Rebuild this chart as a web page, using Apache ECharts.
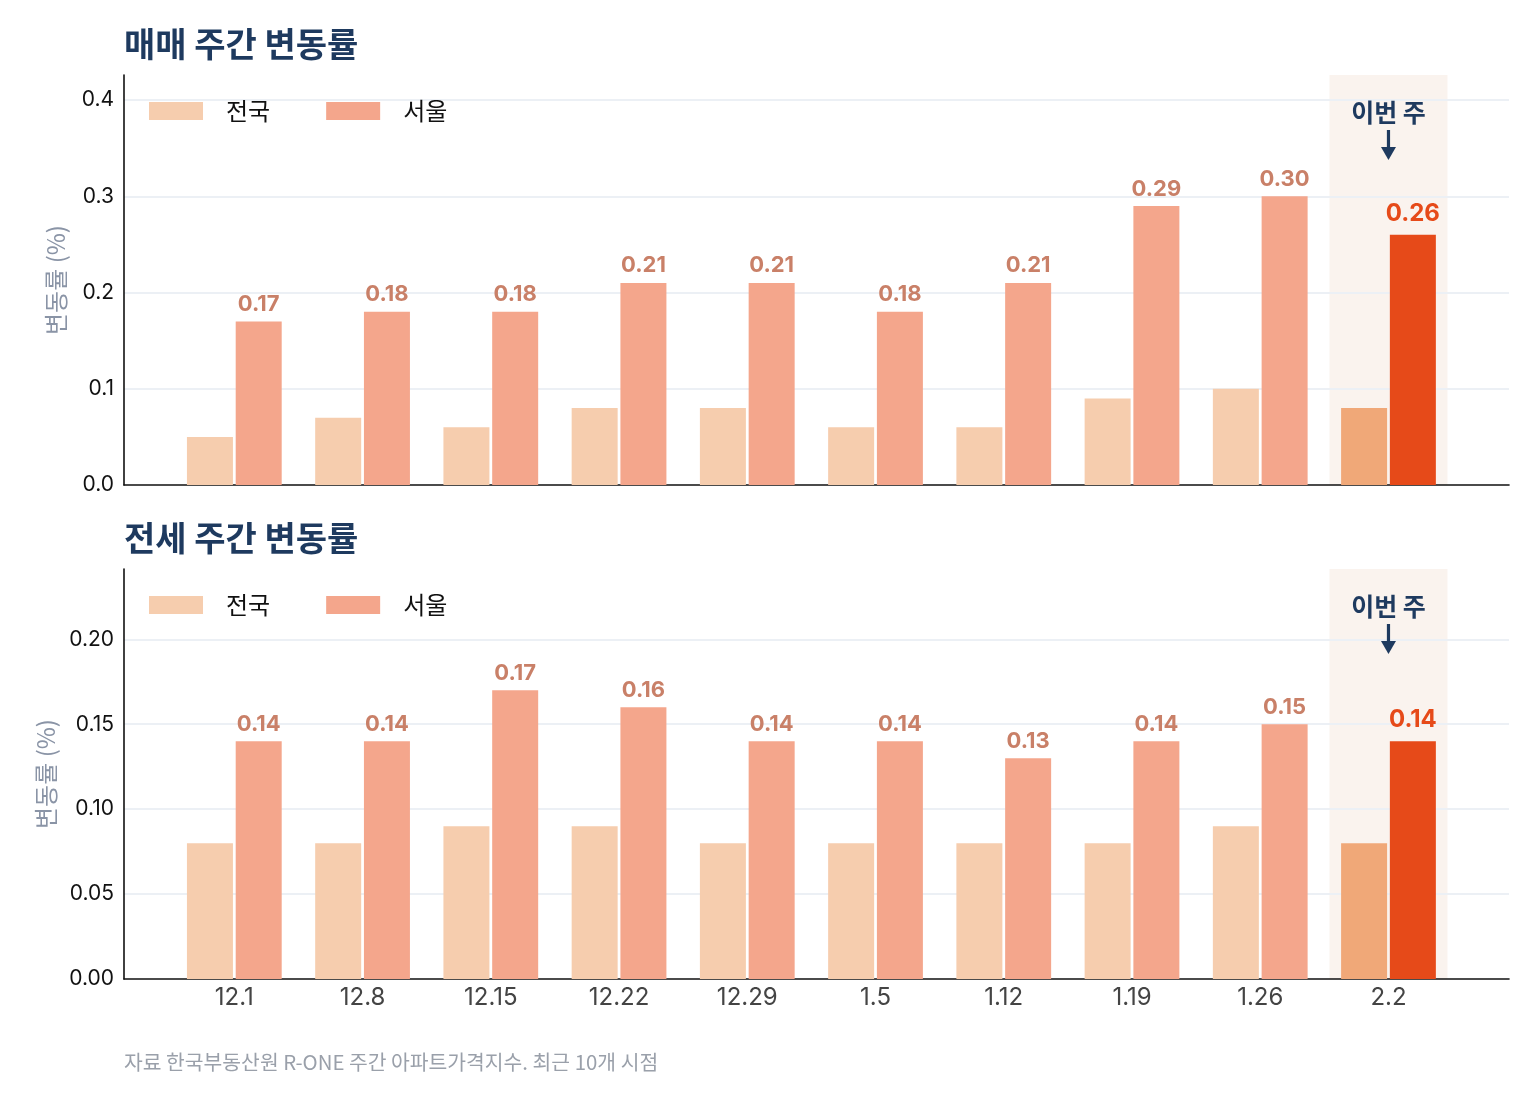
<!DOCTYPE html>
<html>
<head>
<meta charset="utf-8">
<script src="https://cdn.jsdelivr.net/npm/echarts@6/dist/echarts.min.js"></script>
<style>
  html, body { margin: 0; padding: 0; background: #fff; }
  #main { width: 1540px; height: 1104px; }
</style>
</head>
<body>
<div id="main"></div>
<script>
// 주간 시점
var weeks = ['12.1', '12.8', '12.15', '12.22', '12.29', '1.5', '1.12', '1.19', '1.26', '2.2'];
// 매매
var saleNation = [0.05, 0.07, 0.06, 0.08, 0.08, 0.06, 0.06, 0.09, 0.10, 0.08];
var saleSeoul = [0.17, 0.18, 0.18, 0.21, 0.21, 0.18, 0.21, 0.29, 0.30, 0.26];
// 전세
var rentNation = [0.08, 0.08, 0.09, 0.09, 0.08, 0.08, 0.08, 0.08, 0.09, 0.08];
var rentSeoul = [0.14, 0.14, 0.17, 0.16, 0.14, 0.14, 0.13, 0.14, 0.15, 0.14];
var titles = ['매매 주간 변동률', '전세 주간 변동률'];
var yTicks = [[0, 0.1, 0.2, 0.3, 0.4], [0, 0.05, 0.10, 0.15, 0.20]];

var FONT = 'Inter, "Noto Sans CJK KR", sans-serif';
var KFONT = '"Noto Sans CJK KR", Inter, sans-serif';
var C_NATION = '#F6CDAE', C_SEOUL = '#F4A68C';
var C_NATION_HI = '#F0A878', C_SEOUL_HI = '#E64A19';
var NAVY = '#1E3A5F';
var last = weeks.length - 1;

var chart = echarts.init(document.getElementById('main'));

// 패널 위치
var panels = [{ top: 75, height: 410 }, { top: 569, height: 410 }];
var frameL = 124, frameR = 31;
var barL = 170.2, barR = 87.4;

function yMax(arr) { return Math.max.apply(null, arr) * 1.42; }
var maxes = [yMax(saleSeoul), yMax(rentSeoul)];
var decimals = [1, 2];
var dataSets = [[saleNation, saleSeoul], [rentNation, rentSeoul]];

var grid = [], xAxis = [], yAxis = [], series = [], legend = [], title = [];

panels.forEach(function (p, k) {
    // 틀 (축선, 눈금선)
    grid.push({ left: frameL, right: frameR, top: p.top, height: p.height });
    // 막대
    grid.push({ left: barL, right: barR, top: p.top, height: p.height });
    var gFrame = k * 2, gBar = k * 2 + 1;

    xAxis.push({
        gridIndex: gFrame, type: 'value', min: 0, max: 1, z: 3,
        axisLine: { show: true, lineStyle: { color: '#111', width: 1.6 } },
        axisTick: { show: false }, axisLabel: { show: false }, splitLine: { show: false }
    });
    var xBar = xAxis.length;
    xAxis.push({
        gridIndex: gBar, type: 'category', data: weeks,
        axisLine: { show: false }, axisTick: { show: false },
        axisLabel: { show: k === 1, color: '#444', fontSize: 24, fontFamily: FONT, margin: 7 }
    });
    var xBg = xAxis.length;
    xAxis.push({
        gridIndex: gBar, type: 'category', data: weeks, show: false
    });

    yAxis.push({
        gridIndex: gFrame, type: 'value', min: 0, max: maxes[k],
        interval: yTicks[k][1], z: 3,
        name: '변동률 (%)', nameLocation: 'middle', nameGap: 56,
        nameTextStyle: { color: '#8A94A6', fontSize: 24, fontFamily: KFONT },
        axisLine: { show: true, lineStyle: { color: '#111', width: 1.6 } },
        axisTick: { show: false },
        axisLabel: {
            color: '#111', fontSize: 21, fontFamily: FONT, margin: 10, showMaxLabel: false,
            formatter: function (v) { return v.toFixed(decimals[k]); }
        },
        splitLine: { show: true, showMinLine: false, showMaxLine: false,
            lineStyle: { color: '#ECF0F5', width: 1.8 } }
    });
    var yBar = yAxis.length;
    yAxis.push({
        gridIndex: gBar, type: 'value', min: 0, max: maxes[k], show: false, splitLine: { show: false }
    });

    // 이번 주 배경
    series.push({
        type: 'bar', xAxisIndex: xBg, yAxisIndex: yBar, z: 1, silent: true,
        barWidth: 118,
        itemStyle: { color: '#FAF3EE' },
        data: weeks.map(function (w, i) { return i === last ? maxes[k] : '-'; })
    });

    var nation = dataSets[k][0], seoul = dataSets[k][1];
    series.push({
        name: '전국', type: 'bar', xAxisIndex: xBar, yAxisIndex: yBar, z: 5,
        barWidth: 46, barGap: '6%',
        itemStyle: { color: C_NATION },
        data: nation.map(function (v, i) {
            return i === last ? { value: v, itemStyle: { color: C_NATION_HI } } : v;
        })
    });
    series.push({
        name: '서울', type: 'bar', xAxisIndex: xBar, yAxisIndex: yBar, z: 5,
        barWidth: 46, barGap: '6%',
        itemStyle: { color: C_SEOUL },
        label: {
            show: true, position: 'top', distance: 6,
            color: '#C98068', fontSize: 22, fontWeight: 'bold', fontFamily: FONT,
            formatter: function (p) { return p.value.toFixed(2); }
        },
        data: seoul.map(function (v, i) {
            return i === last ? {
                value: v, itemStyle: { color: C_SEOUL_HI },
                label: { color: C_SEOUL_HI, fontSize: 24, distance: 9 }
            } : v;
        })
    });

    legend.push({
        data: ['전국', '서울'], left: 144, top: p.top + 19,
        icon: 'rect', itemWidth: 54, itemHeight: 18, itemGap: 56,
        textStyle: { color: '#111', fontSize: 24, fontFamily: KFONT, padding: [0, 0, 0, 18] }
    });

    title.push({
        text: titles[k], left: 119, top: p.top - 53,
        textStyle: { color: NAVY, fontSize: 34, fontWeight: 'bold', fontFamily: KFONT }
    });
});

title.push({
    text: '자료 한국부동산원 R-ONE 주간 아파트가격지수. 최근 10개 시점',
    left: 119, top: 1047,
    textStyle: { color: '#9AA0AA', fontSize: 20.4, fontWeight: 'normal', fontFamily: KFONT }
});

chart.setOption({
    animation: false,
    backgroundColor: '#fff',
    title: title,
    legend: legend,
    grid: grid,
    xAxis: xAxis,
    yAxis: yAxis,
    series: series
});

// 이번 주 표시
var graphics = [];
panels.forEach(function (p, k) {
    var x = chart.convertToPixel({ xAxisIndex: k * 3 + 1 }, weeks[last]);
    graphics.push({
        type: 'text', x: x, y: p.top + 37, z: 10,
        style: { text: '이번 주', fill: NAVY, font: 'bold 25px ' + KFONT, textAlign: 'center', textVerticalAlign: 'middle' }
    });
    graphics.push({
        type: 'line', z: 10,
        shape: { x1: x, y1: p.top + 55, x2: x, y2: p.top + 76 },
        style: { stroke: NAVY, lineWidth: 3.2 }
    });
    graphics.push({
        type: 'polygon', z: 10,
        shape: { points: [[x - 7.5, p.top + 72], [x + 7.5, p.top + 72], [x, p.top + 85]] },
        style: { fill: NAVY }
    });
});
chart.setOption({ graphic: graphics });
</script>
</body>
</html>
